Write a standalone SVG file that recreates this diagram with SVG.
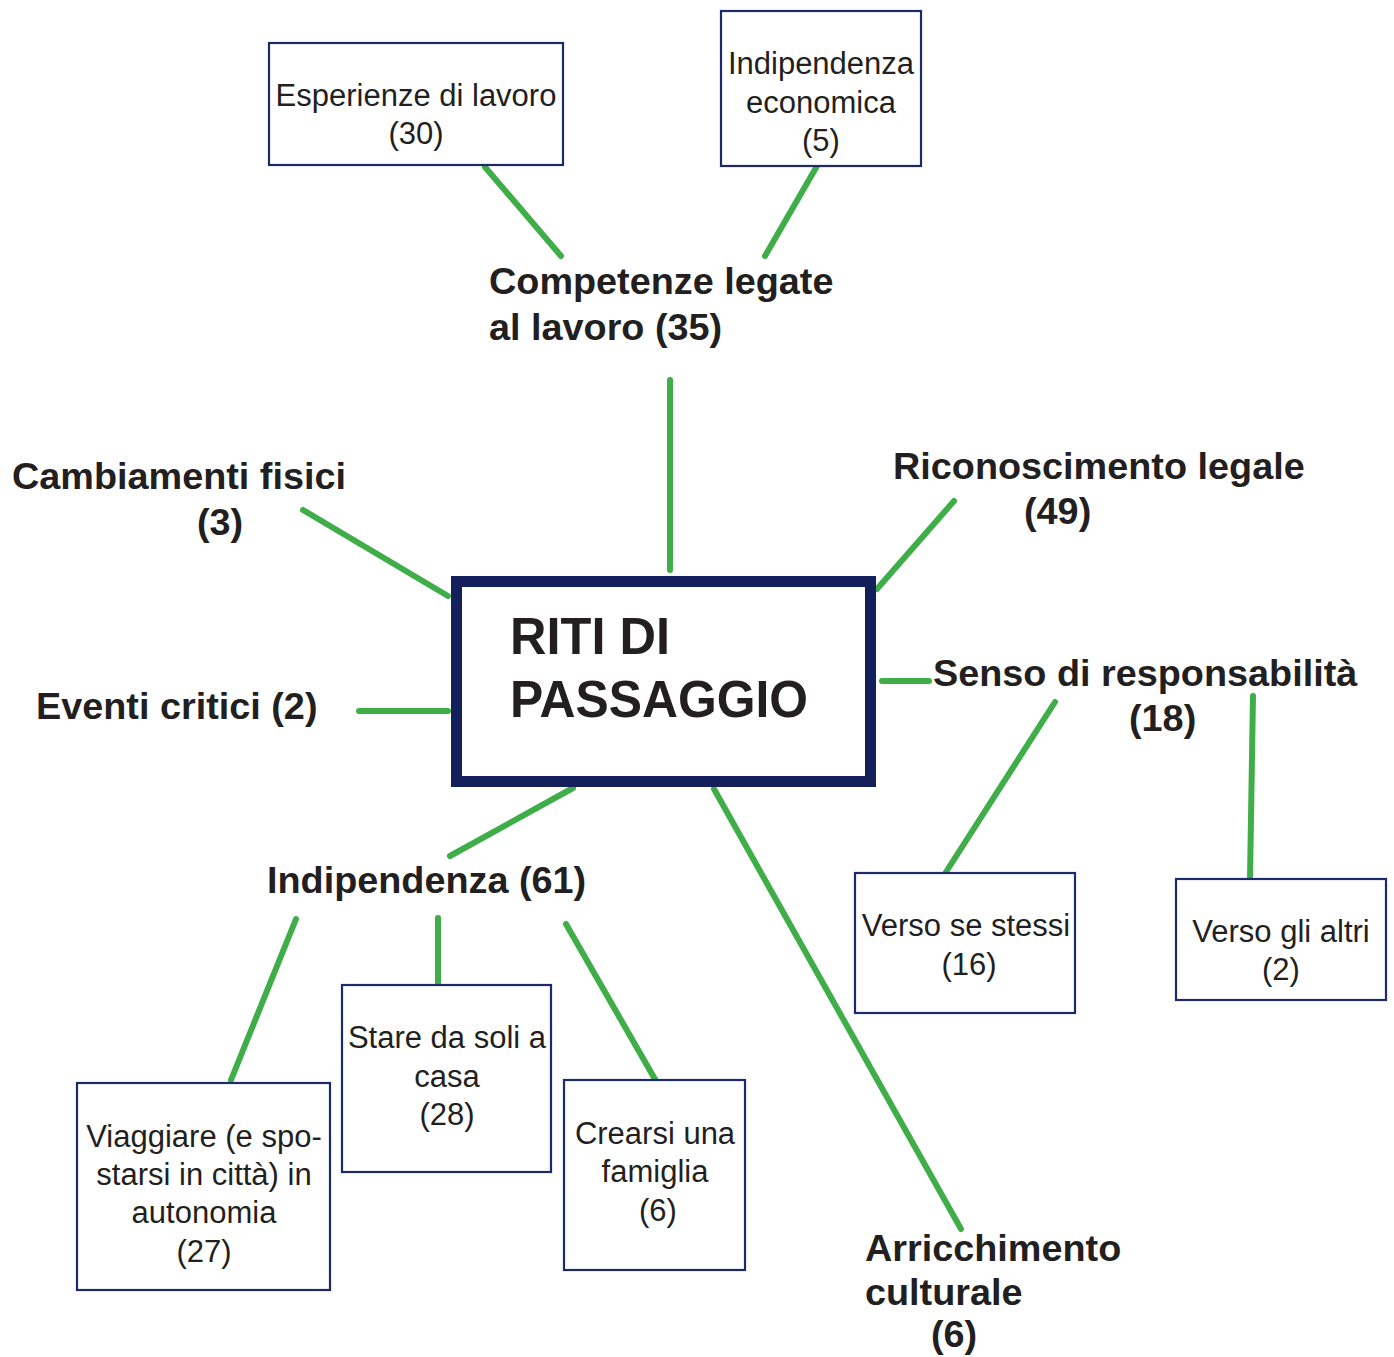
<svg xmlns="http://www.w3.org/2000/svg" width="1394" height="1357" viewBox="0 0 1394 1357">
<style>
.box{fill:#fff;stroke:#1b2a6b;stroke-width:2.2}
.main{fill:#fff;stroke:#13205c;stroke-width:11}
.reg{font-family:"Liberation Sans",Arial,sans-serif;font-size:31px;fill:#231f20;text-anchor:middle}
.bold{font-family:"Liberation Sans",Arial,sans-serif;font-size:37.8px;font-weight:bold;fill:#231f20}
.title{font-family:"Liberation Sans",Arial,sans-serif;font-size:52px;font-weight:bold;fill:#231f20}
.conn line{stroke:#3fae49;stroke-width:6;stroke-linecap:round}
</style>
<rect width="1394" height="1357" fill="#fff"/>
<g class="conn" id="connectors">
<line x1="485" y1="167" x2="561" y2="256"/>
<line x1="817" y1="166" x2="765" y2="256"/>
<line x1="670" y1="380" x2="670" y2="570"/>
<line x1="303" y1="510" x2="448" y2="596"/>
<line x1="954" y1="501" x2="877" y2="589"/>
<line x1="359" y1="711" x2="448" y2="711"/>
<line x1="882" y1="681" x2="929" y2="681"/>
<line x1="573" y1="788" x2="450" y2="856"/>
<line x1="714" y1="789" x2="961" y2="1229"/>
<line x1="1055" y1="702" x2="946" y2="872"/>
<line x1="1253" y1="696" x2="1250" y2="879"/>
<line x1="296" y1="919" x2="231" y2="1080"/>
<line x1="438" y1="918" x2="438" y2="983"/>
<line x1="566" y1="924" x2="656" y2="1081"/>
</g>
<g id="riti">
<rect class="main" x="456.5" y="581.5" width="414" height="200"/>
<text class="title" x="510" y="654" textLength="160" lengthAdjust="spacingAndGlyphs">RITI DI</text>
<text class="title" x="510" y="717" textLength="298" lengthAdjust="spacingAndGlyphs">PASSAGGIO</text>
</g>
<g id="competenze">
<text class="bold" x="489" y="294">Competenze legate</text>
<text class="bold" x="489" y="340">al lavoro (35)</text>
</g>
<g id="esperienze">
<rect class="box" x="269" y="43" width="294" height="122"/>
<text class="reg" x="416" y="106">Esperienze di lavoro</text>
<text class="reg" x="416" y="144">(30)</text>
</g>
<g id="indip-econ">
<rect class="box" x="721" y="11" width="200" height="155"/>
<text class="reg" x="821" y="74">Indipendenza</text>
<text class="reg" x="821" y="113">economica</text>
<text class="reg" x="821" y="151">(5)</text>
</g>
<g id="cambiamenti">
<text class="bold" x="12" y="489">Cambiamenti fisici</text>
<text class="bold" x="197" y="535">(3)</text>
</g>
<g id="riconoscimento">
<text class="bold" x="893" y="479">Riconoscimento legale</text>
<text class="bold" x="1024" y="524">(49)</text>
</g>
<g id="eventi">
<text class="bold" x="36" y="719">Eventi critici (2)</text>
</g>
<g id="senso">
<text class="bold" x="933" y="686">Senso di responsabilità</text>
<text class="bold" x="1129" y="731">(18)</text>
</g>
<g id="verso-se">
<rect class="box" x="855" y="873" width="220" height="140"/>
<text class="reg" x="966" y="936">Verso se stessi</text>
<text class="reg" x="969" y="975">(16)</text>
</g>
<g id="verso-altri">
<rect class="box" x="1176" y="879" width="210" height="121"/>
<text class="reg" x="1281" y="942">Verso gli altri</text>
<text class="reg" x="1281" y="980">(2)</text>
</g>
<g id="indipendenza">
<text class="bold" x="267" y="893">Indipendenza (61)</text>
</g>
<g id="stare">
<rect class="box" x="342" y="985" width="209" height="187"/>
<text class="reg" x="447" y="1048">Stare da soli a</text>
<text class="reg" x="447" y="1087">casa</text>
<text class="reg" x="447" y="1125">(28)</text>
</g>
<g id="crearsi">
<rect class="box" x="564" y="1080" width="181" height="190"/>
<text class="reg" x="655" y="1144">Crearsi una</text>
<text class="reg" x="655" y="1182">famiglia</text>
<text class="reg" x="658" y="1221">(6)</text>
</g>
<g id="viaggiare">
<rect class="box" x="77" y="1083" width="253" height="207"/>
<text class="reg" x="204" y="1147">Viaggiare (e spo-</text>
<text class="reg" x="204" y="1185">starsi in città) in</text>
<text class="reg" x="204" y="1223">autonomia</text>
<text class="reg" x="204" y="1262">(27)</text>
</g>
<g id="arricchimento">
<text class="bold" x="865" y="1261">Arricchimento</text>
<text class="bold" x="865" y="1305">culturale</text>
<text class="bold" x="931" y="1347">(6)</text>
</g>
</svg>
